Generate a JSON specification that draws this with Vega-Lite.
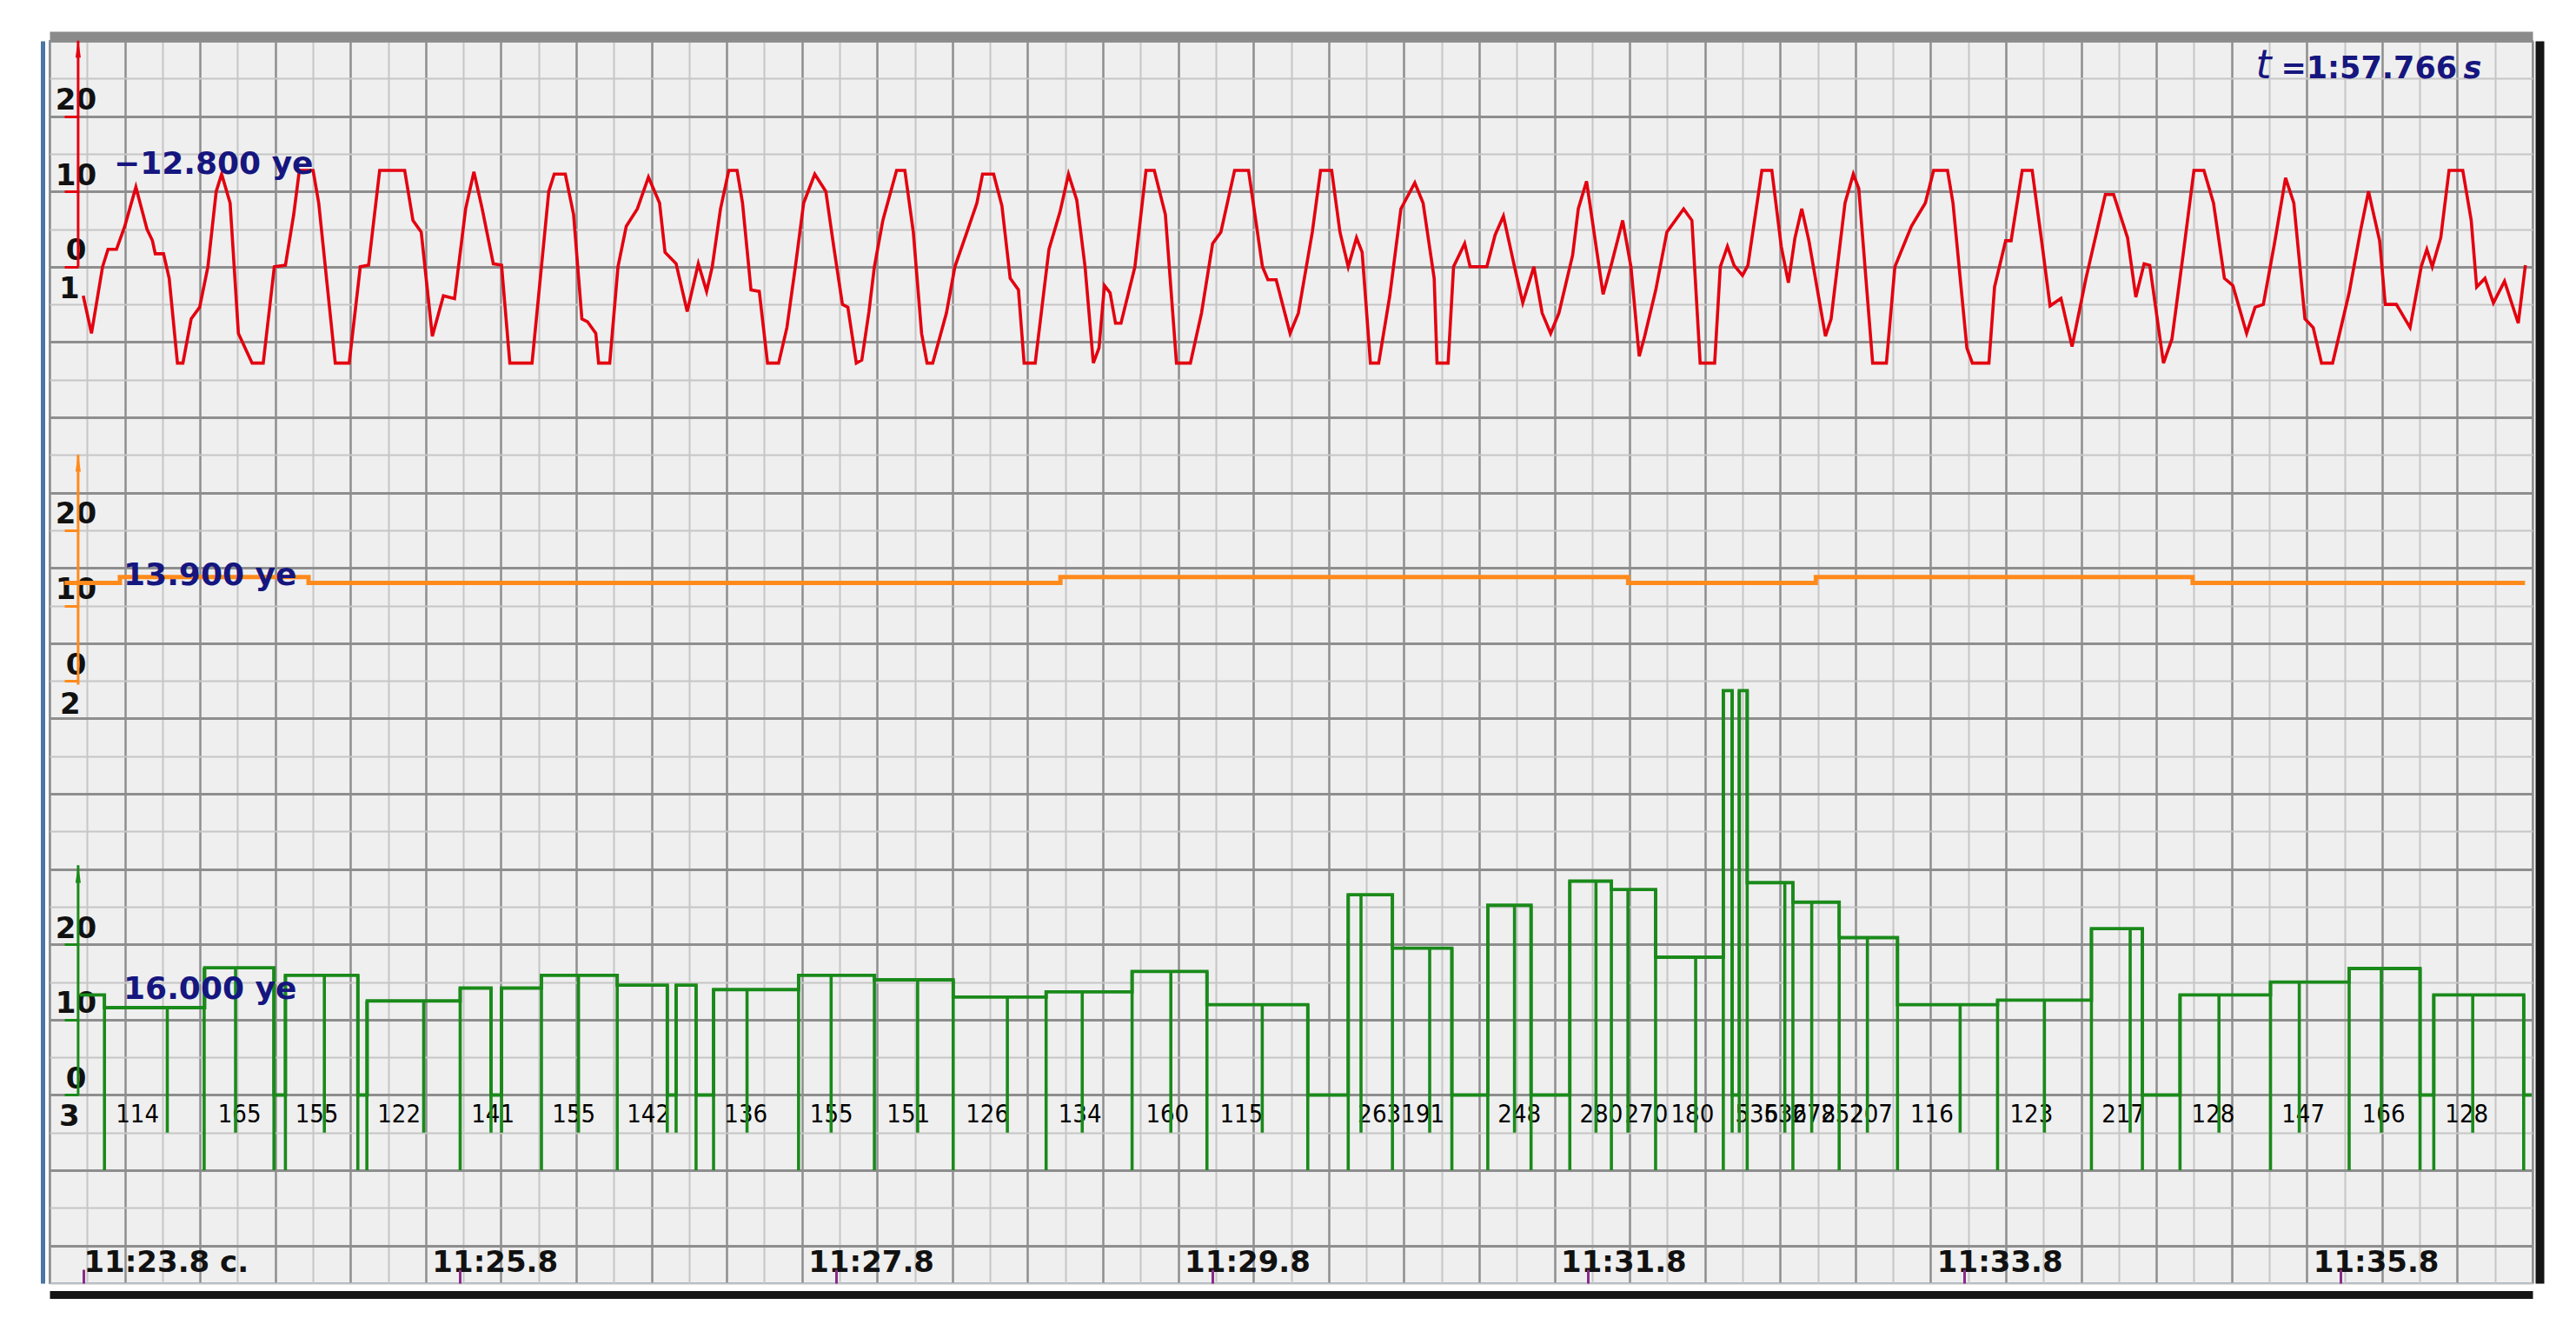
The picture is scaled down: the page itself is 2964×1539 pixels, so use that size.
{
  "$schema": "https://vega.github.io/schema/vega-lite/v6.json",
  "width": 2857,
  "height": 1429,
  "autosize": {"type": "none"},
  "padding": {"left": 57, "top": 47, "right": 50, "bottom": 63},
  "background": "white",
  "config": {
    "view": {"fill": "#efefef", "stroke": "#8da3bd", "strokeWidth": 2},
    "axis": {"labelFlush": false, "labelOverlap": false, "labelBound": false, "labelLimit": 600}
  },
  "datasets": {
    "red": [
      {"t":683.799,"v":-3.85},{"t":683.843,"v":-8.85},{"t":683.902,"v":0},{"t":683.931,"v":2.31},{"t":683.976,"v":2.31},{"t":684.02,"v":5.38},{"t":684.079,"v":10.58},{"t":684.138,"v":5.0},{"t":684.167,"v":3.46},{"t":684.182,"v":1.73},{"t":684.226,"v":1.73},{"t":684.256,"v":-1.54},{"t":684.3,"v":-12.8},{"t":684.329,"v":-12.8},{"t":684.373,"v":-6.92},{"t":684.418,"v":-5.38},{"t":684.462,"v":0},{"t":684.506,"v":10},{"t":684.535,"v":12.3},{"t":684.58,"v":8.46},{"t":684.624,"v":-8.85},{"t":684.697,"v":-12.8},{"t":684.756,"v":-12.8},{"t":684.815,"v":0},{"t":684.874,"v":0.2},{"t":684.918,"v":6.92},{"t":684.948,"v":12.8},{"t":685.021,"v":12.8},{"t":685.051,"v":8.46},{"t":685.139,"v":-12.8},{"t":685.213,"v":-12.8},{"t":685.272,"v":0},{"t":685.316,"v":0.2},{"t":685.375,"v":12.8},{"t":685.508,"v":12.8},{"t":685.552,"v":6.15},{"t":685.596,"v":4.6},{"t":685.655,"v":-9.23},{"t":685.714,"v":-3.85},{"t":685.773,"v":-4.23},{"t":685.832,"v":7.69},{"t":685.876,"v":12.6},{"t":685.92,"v":7.69},{"t":685.979,"v":0.4},{"t":686.023,"v":0.2},{"t":686.067,"v":-12.8},{"t":686.185,"v":-12.8},{"t":686.229,"v":-1.54},{"t":686.274,"v":10},{"t":686.303,"v":12.3},{"t":686.362,"v":12.3},{"t":686.406,"v":6.92},{"t":686.45,"v":-6.92},{"t":686.48,"v":-7.3},{"t":686.524,"v":-8.85},{"t":686.539,"v":-12.8},{"t":686.598,"v":-12.8},{"t":686.642,"v":0},{"t":686.686,"v":5.38},{"t":686.745,"v":7.69},{"t":686.804,"v":11.9},{"t":686.863,"v":8.46},{"t":686.892,"v":1.92},{"t":686.951,"v":0.4},{"t":687.01,"v":-5.96},{"t":687.069,"v":0.4},{"t":687.113,"v":-3.27},{"t":687.143,"v":0},{"t":687.187,"v":7.69},{"t":687.231,"v":12.8},{"t":687.275,"v":12.8},{"t":687.304,"v":8.46},{"t":687.349,"v":-3.08},{"t":687.393,"v":-3.27},{"t":687.437,"v":-12.8},{"t":687.496,"v":-12.8},{"t":687.54,"v":-8.08},{"t":687.585,"v":0},{"t":687.629,"v":8.46},{"t":687.688,"v":12.3},{"t":687.747,"v":10},{"t":687.791,"v":2.31},{"t":687.835,"v":-5},{"t":687.864,"v":-5.38},{"t":687.909,"v":-12.8},{"t":687.938,"v":-12.4},
      {"t":687.976,"v":-6},{"t":688.005,"v":0},{"t":688.05,"v":6.15},{"t":688.123,"v":12.8},{"t":688.167,"v":12.8},{"t":688.212,"v":4.6},{"t":688.256,"v":-8.85},{"t":688.285,"v":-12.8},{"t":688.315,"v":-12.8},{"t":688.388,"v":-6.15},{"t":688.433,"v":0},{"t":688.492,"v":4.23},{"t":688.55,"v":8.46},{"t":688.58,"v":12.3},{"t":688.639,"v":12.3},{"t":688.683,"v":8.08},{"t":688.727,"v":-1.54},{"t":688.771,"v":-3.08},{"t":688.801,"v":-12.8},{"t":688.86,"v":-12.8},{"t":688.933,"v":2.31},{"t":688.992,"v":7.3},{"t":689.037,"v":12.3},{"t":689.081,"v":8.85},{"t":689.125,"v":0},{"t":689.169,"v":-12.8},{"t":689.199,"v":-10.8},{"t":689.228,"v":-2.5},{"t":689.258,"v":-3.46},{"t":689.287,"v":-7.5},{"t":689.316,"v":-7.5},{"t":689.39,"v":0},{"t":689.449,"v":12.8},{"t":689.493,"v":12.8},{"t":689.552,"v":6.92},{"t":689.611,"v":-12.8},{"t":689.685,"v":-12.8},{"t":689.744,"v":-6.15},{"t":689.803,"v":3.08},{"t":689.847,"v":4.6},{"t":689.92,"v":12.8},{"t":689.994,"v":12.8},{"t":690.068,"v":0},{"t":690.097,"v":-1.73},{"t":690.141,"v":-1.73},{"t":690.215,"v":-8.85},{"t":690.259,"v":-6.15},{"t":690.333,"v":4.6},{"t":690.377,"v":12.8},{"t":690.436,"v":12.8},{"t":690.48,"v":4.6},{"t":690.524,"v":0},{"t":690.568,"v":3.85},{"t":690.598,"v":1.92},{"t":690.642,"v":-12.8},{"t":690.686,"v":-12.8},{"t":690.745,"v":-3.85},{"t":690.804,"v":7.69},{"t":690.878,"v":11.15},{"t":690.922,"v":8.46},{"t":690.981,"v":-1.54},{"t":690.996,"v":-12.8},{"t":691.055,"v":-12.8},{"t":691.084,"v":0},{"t":691.143,"v":3.08},{"t":691.172,"v":0},{"t":691.261,"v":0},{"t":691.305,"v":4.23},{"t":691.349,"v":6.73},{"t":691.408,"v":0},{"t":691.452,"v":-4.8},{"t":691.511,"v":0},{"t":691.555,"v":-6.15},{"t":691.6,"v":-8.85},{"t":691.644,"v":-6.15},{"t":691.717,"v":1.54},{"t":691.747,"v":7.69},{"t":691.791,"v":11.35},{"t":691.835,"v":3.85},{"t":691.879,"v":-3.65},{"t":691.924,"v":0.4},{"t":691.983,"v":6.15},{"t":692.027,"v":0},{"t":692.071,"v":-11.9},{"t":692.1,"v":-9.23},{"t":692.159,"v":-3.08},{"t":692.218,"v":4.6},{"t":692.307,"v":7.69},{"t":692.351,"v":6.15},{"t":692.395,"v":-12.8},
      {"t":692.472,"v":-12.8},{"t":692.502,"v":0},{"t":692.54,"v":2.69},{"t":692.575,"v":0.2},{"t":692.62,"v":-1.15},{"t":692.649,"v":0.2},{"t":692.723,"v":12.8},{"t":692.776,"v":12.8},{"t":692.826,"v":2.69},{"t":692.864,"v":-2.12},{"t":692.899,"v":3.85},{"t":692.935,"v":7.69},{"t":692.973,"v":3.46},{"t":693.061,"v":-9.23},{"t":693.091,"v":-6.92},{"t":693.165,"v":8.46},{"t":693.209,"v":12.3},{"t":693.238,"v":10.4},{"t":693.312,"v":-12.8},{"t":693.385,"v":-12.8},{"t":693.43,"v":0},{"t":693.518,"v":5.38},{"t":693.592,"v":8.46},{"t":693.636,"v":12.8},{"t":693.71,"v":12.8},{"t":693.739,"v":8.46},{"t":693.813,"v":-10.8},{"t":693.842,"v":-12.8},{"t":693.93,"v":-12.8},{"t":693.96,"v":-2.69},{"t":694.019,"v":3.46},{"t":694.048,"v":3.46},{"t":694.107,"v":12.8},{"t":694.16,"v":12.8},{"t":694.21,"v":3.46},{"t":694.255,"v":-5.2},{"t":694.313,"v":-4.2},{"t":694.372,"v":-10.6},{"t":694.446,"v":-1.54},{"t":694.549,"v":9.6},{"t":694.593,"v":9.6},{"t":694.667,"v":3.85},{"t":694.711,"v":-4.04},{"t":694.755,"v":0.4},{"t":694.785,"v":0.2},{"t":694.858,"v":-12.8},{"t":694.903,"v":-9.6},{"t":694.962,"v":1.54},{"t":695.02,"v":12.8},{"t":695.073,"v":12.8},{"t":695.124,"v":8.46},{"t":695.182,"v":-1.54},{"t":695.227,"v":-2.5},{"t":695.3,"v":-8.85},{"t":695.345,"v":-5.38},{"t":695.389,"v":-5},{"t":695.448,"v":3.08},{"t":695.507,"v":11.8},{"t":695.551,"v":8.46},{"t":695.61,"v":-6.92},{"t":695.654,"v":-8.08},{"t":695.698,"v":-12.8},{"t":695.757,"v":-12.8},{"t":695.845,"v":-3.46},{"t":695.904,"v":4.6},{"t":695.948,"v":10},{"t":696.007,"v":3.46},{"t":696.037,"v":-5},{"t":696.096,"v":-5},{"t":696.169,"v":-8.08},{"t":696.228,"v":0},{"t":696.258,"v":2.31},{"t":696.287,"v":0},{"t":696.332,"v":3.85},{"t":696.376,"v":12.8},{"t":696.449,"v":12.8},{"t":696.494,"v":6.15},{"t":696.523,"v":-2.69},{"t":696.567,"v":-1.54},{"t":696.612,"v":-4.8},{"t":696.671,"v":-1.92},{"t":696.744,"v":-7.5},{"t":696.782,"v":0.2}
    ],
    "orange": [
      {"t":683.70,"v":13.0},{"t":683.994,"v":13.8},{"t":684.997,"v":13.0},{"t":688.994,"v":13.8},{"t":692.012,"v":13.0},{"t":693.01,"v":13.8},{"t":695.013,"v":13.0},{"t":696.78,"v":13.0}
    ],
    "green": [
      {"t":683.78,"v":13.3},{"t":683.912,"v":11.6},{"t":684.445,"v":16.9},{"t":684.813,"v":0},{"t":684.874,"v":15.9},{"t":685.259,"v":0},{"t":685.309,"v":12.5},{"t":685.803,"v":14.2},{"t":685.967,"v":0},{"t":686.023,"v":14.2},{"t":686.235,"v":15.9},{"t":686.638,"v":14.6},{"t":686.904,"v":0},{"t":686.951,"v":14.6},{"t":687.057,"v":0},{"t":687.15,"v":14.0},{"t":687.602,"v":15.9},{"t":688.005,"v":15.3},{"t":688.424,"v":13.0},{"t":688.918,"v":13.7},{"t":689.375,"v":16.4},{"t":689.773,"v":12.0},{"t":690.309,"v":0},{"t":690.524,"v":26.6},{"t":690.759,"v":19.5},{"t":691.075,"v":0},{"t":691.266,"v":25.2},{"t":691.496,"v":0},{"t":691.702,"v":28.4},{"t":691.923,"v":27.3},{"t":692.158,"v":18.3},{"t":692.518,"v":53.7},{"t":692.565,"v":0},{"t":692.603,"v":53.7},{"t":692.645,"v":28.2},{"t":692.888,"v":25.6},{"t":693.134,"v":20.9},{"t":693.444,"v":12.0},{"t":693.976,"v":12.6},{"t":694.475,"v":22.1},{"t":694.746,"v":0},{"t":694.946,"v":13.3},{"t":695.427,"v":15.0},{"t":695.845,"v":16.8},{"t":696.222,"v":0},{"t":696.295,"v":13.3},{"t":696.773,"v":0},{"t":696.815,"v":0}
    ],
    "ticks": [
      {"kind":"long","bottom":-10,"t":683.912,"top":13.3},{"kind":"long","bottom":-10,"t":684.442,"top":16.9},{"kind":"long","bottom":-10,"t":684.813,"top":16.9},{"kind":"long","bottom":-10,"t":684.874,"top":15.9},{"kind":"long","bottom":-10,"t":685.259,"top":15.9},{"kind":"long","bottom":-10,"t":685.307,"top":12.5},{"kind":"long","bottom":-10,"t":685.803,"top":14.2},{"kind":"long","bottom":-10,"t":686.235,"top":15.9},{"kind":"long","bottom":-10,"t":686.638,"top":15.9},{"kind":"long","bottom":-10,"t":687.057,"top":14.6},{"kind":"long","bottom":-10,"t":687.15,"top":14.0},{"kind":"long","bottom":-10,"t":687.602,"top":15.9},{"kind":"long","bottom":-10,"t":688.005,"top":15.9},{"kind":"long","bottom":-10,"t":688.424,"top":15.3},{"kind":"long","bottom":-10,"t":688.918,"top":13.7},{"kind":"long","bottom":-10,"t":689.375,"top":16.4},{"kind":"long","bottom":-10,"t":689.773,"top":16.4},{"kind":"long","bottom":-10,"t":690.309,"top":12.0},{"kind":"long","bottom":-10,"t":690.524,"top":26.6},{"kind":"long","bottom":-10,"t":690.759,"top":26.6},{"kind":"long","bottom":-10,"t":691.075,"top":19.5},{"kind":"long","bottom":-10,"t":691.266,"top":25.2},{"kind":"long","bottom":-10,"t":691.496,"top":25.2},{"kind":"long","bottom":-10,"t":691.702,"top":28.4},{"kind":"long","bottom":-10,"t":691.923,"top":28.4},{"kind":"long","bottom":-10,"t":692.158,"top":27.3},{"kind":"long","bottom":-10,"t":692.518,"top":53.7},{"kind":"long","bottom":-10,"t":692.645,"top":53.7},{"kind":"long","bottom":-10,"t":692.888,"top":28.2},{"kind":"long","bottom":-10,"t":693.134,"top":25.6},{"kind":"long","bottom":-10,"t":693.444,"top":20.9},{"kind":"long","bottom":-10,"t":693.976,"top":12.6},{"kind":"long","bottom":-10,"t":694.475,"top":22.1},{"kind":"long","bottom":-10,"t":694.746,"top":22.1},{"kind":"long","bottom":-10,"t":694.946,"top":13.3},{"kind":"long","bottom":-10,"t":695.427,"top":15.0},{"kind":"long","bottom":-10,"t":695.845,"top":16.8},{"kind":"long","bottom":-10,"t":696.222,"top":16.8},{"kind":"long","bottom":-10,"t":696.295,"top":13.3},{"kind":"long","bottom":-10,"t":696.773,"top":13.3},
      {"kind":"short","bottom":-5,"t":684.246,"top":11.6},{"kind":"short","bottom":-5,"t":684.609,"top":16.9},{"kind":"short","bottom":-5,"t":685.081,"top":15.9},{"kind":"short","bottom":-5,"t":685.609,"top":12.5},{"kind":"short","bottom":-5,"t":685.967,"top":14.2},{"kind":"short","bottom":-5,"t":686.023,"top":14.2},{"kind":"short","bottom":-5,"t":686.432,"top":15.9},{"kind":"short","bottom":-5,"t":686.904,"top":14.6},{"kind":"short","bottom":-5,"t":686.951,"top":14.6},{"kind":"short","bottom":-5,"t":687.328,"top":14.0},{"kind":"short","bottom":-5,"t":687.775,"top":15.9},{"kind":"short","bottom":-5,"t":688.235,"top":15.3},{"kind":"short","bottom":-5,"t":688.712,"top":13.0},{"kind":"short","bottom":-5,"t":689.11,"top":13.7},{"kind":"short","bottom":-5,"t":689.581,"top":16.4},{"kind":"short","bottom":-5,"t":690.067,"top":12.0},{"kind":"short","bottom":-5,"t":690.592,"top":26.6},{"kind":"short","bottom":-5,"t":690.957,"top":19.5},{"kind":"short","bottom":-5,"t":691.408,"top":25.2},{"kind":"short","bottom":-5,"t":691.841,"top":28.4},{"kind":"short","bottom":-5,"t":692.011,"top":27.3},{"kind":"short","bottom":-5,"t":692.371,"top":18.3},{"kind":"short","bottom":-5,"t":692.565,"top":53.7},{"kind":"short","bottom":-5,"t":692.603,"top":53.7},{"kind":"short","bottom":-5,"t":692.845,"top":28.2},{"kind":"short","bottom":-5,"t":692.988,"top":25.6},{"kind":"short","bottom":-5,"t":693.284,"top":20.9},{"kind":"short","bottom":-5,"t":693.777,"top":12.0},{"kind":"short","bottom":-5,"t":694.225,"top":12.6},{"kind":"short","bottom":-5,"t":694.681,"top":22.1},{"kind":"short","bottom":-5,"t":695.153,"top":13.3},{"kind":"short","bottom":-5,"t":695.58,"top":15.0},{"kind":"short","bottom":-5,"t":696.016,"top":16.8},{"kind":"short","bottom":-5,"t":696.502,"top":13.3}
    ],
    "glabels": [
      {"t":684.087,"v":-2.65,"lab":"114"},{"t":684.63,"v":-2.65,"lab":"165"},{"t":685.041,"v":-2.65,"lab":"155"},{"t":685.478,"v":-2.65,"lab":"122"},{"t":685.977,"v":-2.65,"lab":"141"},{"t":686.407,"v":-2.65,"lab":"155"},{"t":686.804,"v":-2.65,"lab":"142"},{"t":687.322,"v":-2.65,"lab":"136"},{"t":687.777,"v":-2.65,"lab":"155"},{"t":688.186,"v":-2.65,"lab":"151"},{"t":688.606,"v":-2.65,"lab":"126"},{"t":689.098,"v":-2.65,"lab":"134"},{"t":689.563,"v":-2.65,"lab":"160"},{"t":689.956,"v":-2.65,"lab":"115"},{"t":690.69,"v":-2.65,"lab":"263"},{"t":690.921,"v":-2.65,"lab":"191"},{"t":691.434,"v":-2.65,"lab":"248"},{"t":691.869,"v":-2.65,"lab":"280"},{"t":692.109,"v":-2.65,"lab":"270"},{"t":692.354,"v":-2.65,"lab":"180"},{"t":692.696,"v":-2.65,"lab":"536"},{"t":692.848,"v":-2.65,"lab":"536"},{"t":693.0,"v":-2.65,"lab":"278"},{"t":693.152,"v":-2.65,"lab":"252"},{"t":693.304,"v":-2.65,"lab":"207"},{"t":693.627,"v":-2.65,"lab":"116"},{"t":694.156,"v":-2.65,"lab":"123"},{"t":694.644,"v":-2.65,"lab":"217"},{"t":695.122,"v":-2.65,"lab":"128"},{"t":695.601,"v":-2.65,"lab":"147"},{"t":696.028,"v":-2.65,"lab":"166"},{"t":696.47,"v":-2.65,"lab":"128"}
    ],
    "channels": [
      {"ch": "1", "trace": "red", "t": 683.772, "lo": 0, "hi": 30, "tip": 28.6, "nt": 683.726, "nv": -3.0},
      {"ch": "2", "trace": "orange", "t": 683.772, "lo": -0.5, "hi": 30, "tip": 28.6, "nt": 683.73, "nv": -3.2},
      {"ch": "3", "trace": "green", "t": 683.772, "lo": 0, "hi": 30.5, "tip": 29.0, "nt": 683.726, "nv": -2.9}
    ],
    "notes": [
      {"trace": "red", "label": "−12.800 ye", "t": 683.962, "v": 12.3},
      {"trace": "orange", "label": "13.900 ye", "t": 684.013, "v": 12.7},
      {"trace": "green", "label": "16.000 ye", "t": 684.013, "v": 12.7},
      {"trace": "cursor_t", "label": "t", "t": 695.348, "v": 25.0},
      {"trace": "cursor_val", "label": "=1:57.766", "t": 695.482, "v": 25.0},
      {"trace": "cursor_s", "label": "s", "t": 696.453, "v": 25.0}
    ]
  },
  "resolve": {"scale": {"x": "independent", "y": "independent"}, "axis": {"x": "independent", "y": "independent"}},
  "layer": [
    {
      "data": {"name": "orange"},
      "mark": {"type": "line", "opacity": 0},
      "encoding": {
        "x": {"field": "t", "type": "quantitative", "scale": {"domain": [683.62, 696.82], "nice": false, "zero": false},
          "axis": {"orient": "bottom", "title": null, "domain": false, "ticks": false, "labels": false, "grid": true, "gridWidth": 2, "gridColor": "#c6c6c6",
            "values": [683.82,684.22,684.62,685.02,685.42,685.82,686.22,686.62,687.02,687.42,687.82,688.22,688.62,689.02,689.42,689.82,690.22,690.62,691.02,691.42,691.82,692.22,692.62,693.02,693.42,693.82,694.22,694.62,695.02,695.42,695.82,696.22,696.62]}},
        "y": {"field": "v", "type": "quantitative", "scale": {"domain": [-135, 30], "nice": false, "zero": false},
          "axis": {"orient": "left", "title": null, "domain": false, "ticks": false, "labels": false, "grid": true, "gridWidth": 2.2, "gridColor": "#c6c6c6",
            "values": [-135,-125,-115,-105,-95,-85,-75,-65,-55,-45,-35,-25,-15,-5,5,15,25]}}
      }
    },
    {
      "data": {"name": "orange"},
      "mark": {"type": "line", "opacity": 0},
      "encoding": {
        "x": {"field": "t", "type": "quantitative", "scale": {"domain": [683.62, 696.82], "nice": false, "zero": false},
          "axis": {"orient": "bottom", "title": null, "domain": false, "ticks": false, "labels": false, "grid": true, "gridWidth": 2.5, "gridColor": "#8e8e8e",
            "values": [683.62,684.02,684.42,684.82,685.22,685.62,686.02,686.42,686.82,687.22,687.62,688.02,688.42,688.82,689.22,689.62,690.02,690.42,690.82,691.22,691.62,692.02,692.42,692.82,693.22,693.62,694.02,694.42,694.82,695.22,695.62,696.02,696.42,696.82]}},
        "y": {"field": "v", "type": "quantitative", "scale": {"domain": [-135, 30], "nice": false, "zero": false},
          "axis": {"orient": "left", "title": null, "domain": false, "ticks": false, "labels": false, "grid": true, "gridWidth": 2.8, "gridColor": "#8e8e8e",
            "values": [-130,-120,-110,-100,-90,-80,-70,-60,-50,-40,-30,-20,-10,0,10,20,30]}}
      }
    },
    {
      "data": {"name": "orange"},
      "mark": {"type": "line", "opacity": 0},
      "encoding": {
        "x": {"field": "t", "type": "quantitative", "scale": {"domain": [683.62, 696.82], "nice": false, "zero": false},
          "axis": {"orient": "top", "title": null, "domain": true, "domainColor": "#8a8a8a", "domainWidth": 10, "offset": 6, "ticks": false, "labels": false, "grid": false}},
        "y": {"field": "v", "type": "quantitative", "scale": {"domain": [-135, 30], "nice": false, "zero": false},
          "axis": {"orient": "left", "title": null, "domain": true, "domainColor": "#4b76a6", "domainWidth": 5, "offset": 8, "ticks": false, "labels": false, "grid": false}}
      }
    },
    {
      "data": {"name": "orange"},
      "mark": {"type": "line", "opacity": 0},
      "encoding": {
        "x": {"field": "t", "type": "quantitative", "scale": {"domain": [683.62, 696.82], "nice": false, "zero": false},
          "axis": {"orient": "bottom", "title": null, "domain": true, "domainColor": "#151515", "domainWidth": 9, "offset": 13, "ticks": false, "labels": false, "grid": false}},
        "y": {"field": "v", "type": "quantitative", "scale": {"domain": [-135, 30], "nice": false, "zero": false},
          "axis": {"orient": "right", "title": null, "domain": true, "domainColor": "#151515", "domainWidth": 10, "offset": 8, "ticks": false, "labels": false, "grid": false}}
      }
    },
    {
      "data": {"name": "red"},
      "mark": {"type": "line", "color": "#e3000f", "strokeWidth": 3.6},
      "encoding": {
        "x": {"field": "t", "type": "quantitative", "scale": {"domain": [683.62, 696.82], "nice": false, "zero": false},
          "axis": {"orient": "bottom", "title": null, "domain": false, "grid": false, "ticks": false, "labels": true,
            "values": [683.8],
            "labelExpr": "'11:' + format(datum.value - 660, '.1f') + ' c.'",
            "labelAlign": "left", "labelBaseline": "alphabetic", "labelPadding": -14, "labelOffset": 0, "labelLimit": 600,
            "labelFont": "DejaVu Sans", "labelFontWeight": "bold", "labelFontSize": 34, "labelColor": "#111111"}},
        "y": {"field": "v", "type": "quantitative", "scale": {"domain": [-135, 30], "nice": false, "zero": false},
          "axis": {"orient": "left", "offset": -33, "values": [0, 10, 20], "title": null, "domain": false, "grid": false, "ticks": true, "tickSize": 16, "tickWidth": 3, "tickColor": "#e3000f",
            "labelFont": "DejaVu Sans", "labelFontWeight": "bold", "labelFontSize": 34, "labelColor": "#111111", "labelAlign": "center", "labelBaseline": "alphabetic", "labelPadding": -13, "labelOffset": -8}}
      }
    },
    {
      "data": {"name": "channels"},
      "transform": [{"filter": "datum.trace === 'red'"}],
      "mark": {"type": "rule", "color": "#e3000f", "strokeWidth": 3},
      "encoding": {
        "x": {"field": "t", "type": "quantitative", "scale": {"domain": [683.62, 696.82], "nice": false, "zero": false}, "axis": null},
        "y": {"field": "lo", "type": "quantitative", "scale": {"domain": [-135, 30], "nice": false, "zero": false}, "axis": null},
        "y2": {"field": "hi"}
      }
    },
    {
      "data": {"name": "channels"},
      "transform": [{"filter": "datum.trace === 'red'"}],
      "mark": {"type": "point", "shape": "wedge", "filled": true, "color": "#e3000f", "size": 600, "opacity": 1},
      "encoding": {
        "x": {"field": "t", "type": "quantitative", "scale": {"domain": [683.62, 696.82], "nice": false, "zero": false}, "axis": null},
        "y": {"field": "tip", "type": "quantitative", "scale": {"domain": [-135, 30], "nice": false, "zero": false}, "axis": null}
      }
    },
    {
      "data": {"name": "channels"},
      "transform": [{"filter": "datum.trace === 'red'"}],
      "mark": {"type": "text", "font": "DejaVu Sans", "fontWeight": "bold", "fontSize": 34, "color": "#111111", "align": "center", "baseline": "middle"},
      "encoding": {
        "x": {"field": "nt", "type": "quantitative", "scale": {"domain": [683.62, 696.82], "nice": false, "zero": false}, "axis": null},
        "y": {"field": "nv", "type": "quantitative", "scale": {"domain": [-135, 30], "nice": false, "zero": false}, "axis": null},
        "text": {"field": "ch", "type": "nominal"}
      }
    },
    {
      "data": {"name": "notes"},
      "transform": [{"filter": "datum.trace === 'red'"}],
      "mark": {"type": "text", "font": "DejaVu Sans", "fontWeight": "bold", "fontSize": 36, "color": "#16167f", "align": "left", "baseline": "alphabetic"},
      "encoding": {
        "x": {"field": "t", "type": "quantitative", "scale": {"domain": [683.62, 696.82], "nice": false, "zero": false}, "axis": null},
        "y": {"field": "v", "type": "quantitative", "scale": {"domain": [-135, 30], "nice": false, "zero": false}, "axis": null},
        "text": {"field": "label", "type": "nominal"}
      }
    },
    {
      "data": {"name": "notes"},
      "transform": [{"filter": "datum.trace === 'cursor_t'"}],
      "mark": {"type": "text", "font": "DejaVu Sans", "fontStyle": "italic", "fontSize": 46, "color": "#16167f", "align": "left", "baseline": "alphabetic"},
      "encoding": {
        "x": {"field": "t", "type": "quantitative", "scale": {"domain": [683.62, 696.82], "nice": false, "zero": false}, "axis": null},
        "y": {"field": "v", "type": "quantitative", "scale": {"domain": [-135, 30], "nice": false, "zero": false}, "axis": null},
        "text": {"field": "label", "type": "nominal"}
      }
    },
    {
      "data": {"name": "notes"},
      "transform": [{"filter": "datum.trace === 'cursor_val'"}],
      "mark": {"type": "text", "font": "DejaVu Sans", "fontWeight": "bold", "fontSize": 35, "color": "#16167f", "align": "left", "baseline": "alphabetic"},
      "encoding": {
        "x": {"field": "t", "type": "quantitative", "scale": {"domain": [683.62, 696.82], "nice": false, "zero": false}, "axis": null},
        "y": {"field": "v", "type": "quantitative", "scale": {"domain": [-135, 30], "nice": false, "zero": false}, "axis": null},
        "text": {"field": "label", "type": "nominal"}
      }
    },
    {
      "data": {"name": "notes"},
      "transform": [{"filter": "datum.trace === 'cursor_s'"}],
      "mark": {"type": "text", "font": "DejaVu Sans", "fontWeight": "bold", "fontStyle": "italic", "fontSize": 35, "color": "#16167f", "align": "left", "baseline": "alphabetic"},
      "encoding": {
        "x": {"field": "t", "type": "quantitative", "scale": {"domain": [683.62, 696.82], "nice": false, "zero": false}, "axis": null},
        "y": {"field": "v", "type": "quantitative", "scale": {"domain": [-135, 30], "nice": false, "zero": false}, "axis": null},
        "text": {"field": "label", "type": "nominal"}
      }
    },
    {
      "data": {"name": "orange"},
      "mark": {"type": "line", "color": "#ff8a1c", "strokeWidth": 5, "interpolate": "step-after"},
      "encoding": {
        "x": {"field": "t", "type": "quantitative", "scale": {"domain": [683.62, 696.82], "nice": false, "zero": false},
          "axis": {"orient": "bottom", "title": null, "domain": false, "grid": false, "ticks": false, "labels": true,
            "values": [685.8, 687.8, 689.8, 691.8, 693.8, 695.8],
            "labelExpr": "'11:' + format(datum.value - 660, '.1f')",
            "labelAlign": "left", "labelBaseline": "alphabetic", "labelPadding": -14, "labelOffset": -32, "labelLimit": 600,
            "labelFont": "DejaVu Sans", "labelFontWeight": "bold", "labelFontSize": 34, "labelColor": "#111111"}},
        "y": {"field": "v", "type": "quantitative", "scale": {"domain": [-80, 85], "nice": false, "zero": false},
          "axis": {"orient": "left", "offset": -33, "values": [0, 10, 20], "title": null, "domain": false, "grid": false, "ticks": true, "tickSize": 16, "tickWidth": 3, "tickColor": "#ff8a1c",
            "labelFont": "DejaVu Sans", "labelFontWeight": "bold", "labelFontSize": 34, "labelColor": "#111111", "labelAlign": "center", "labelBaseline": "alphabetic", "labelPadding": -13, "labelOffset": -8}}
      }
    },
    {
      "data": {"name": "channels"},
      "transform": [{"filter": "datum.trace === 'orange'"}],
      "mark": {"type": "rule", "color": "#ff8a1c", "strokeWidth": 3},
      "encoding": {
        "x": {"field": "t", "type": "quantitative", "scale": {"domain": [683.62, 696.82], "nice": false, "zero": false}, "axis": null},
        "y": {"field": "lo", "type": "quantitative", "scale": {"domain": [-80, 85], "nice": false, "zero": false}, "axis": null},
        "y2": {"field": "hi"}
      }
    },
    {
      "data": {"name": "channels"},
      "transform": [{"filter": "datum.trace === 'orange'"}],
      "mark": {"type": "point", "shape": "wedge", "filled": true, "color": "#ff8a1c", "size": 600, "opacity": 1},
      "encoding": {
        "x": {"field": "t", "type": "quantitative", "scale": {"domain": [683.62, 696.82], "nice": false, "zero": false}, "axis": null},
        "y": {"field": "tip", "type": "quantitative", "scale": {"domain": [-80, 85], "nice": false, "zero": false}, "axis": null}
      }
    },
    {
      "data": {"name": "channels"},
      "transform": [{"filter": "datum.trace === 'orange'"}],
      "mark": {"type": "text", "font": "DejaVu Sans", "fontWeight": "bold", "fontSize": 34, "color": "#111111", "align": "center", "baseline": "middle"},
      "encoding": {
        "x": {"field": "nt", "type": "quantitative", "scale": {"domain": [683.62, 696.82], "nice": false, "zero": false}, "axis": null},
        "y": {"field": "nv", "type": "quantitative", "scale": {"domain": [-80, 85], "nice": false, "zero": false}, "axis": null},
        "text": {"field": "ch", "type": "nominal"}
      }
    },
    {
      "data": {"name": "notes"},
      "transform": [{"filter": "datum.trace === 'orange'"}],
      "mark": {"type": "text", "font": "DejaVu Sans", "fontWeight": "bold", "fontSize": 36, "color": "#16167f", "align": "left", "baseline": "alphabetic"},
      "encoding": {
        "x": {"field": "t", "type": "quantitative", "scale": {"domain": [683.62, 696.82], "nice": false, "zero": false}, "axis": null},
        "y": {"field": "v", "type": "quantitative", "scale": {"domain": [-80, 85], "nice": false, "zero": false}, "axis": null},
        "text": {"field": "label", "type": "nominal"}
      }
    },
    {
      "data": {"name": "glabels"},
      "mark": {"type": "text", "font": "DejaVu Sans Condensed, DejaVu Sans", "fontSize": 29, "color": "#000000", "align": "center", "baseline": "middle"},
      "encoding": {
        "x": {"field": "t", "type": "quantitative", "scale": {"domain": [683.62, 696.82], "nice": false, "zero": false}, "axis": null},
        "y": {"field": "v", "type": "quantitative", "scale": {"domain": [-25, 140], "nice": false, "zero": false}, "axis": null},
        "text": {"field": "lab", "type": "nominal"}
      }
    },
    {
      "data": {"name": "ticks"},
      "mark": {"type": "rule", "color": "#1a8a1a", "strokeWidth": 3.6},
      "encoding": {
        "x": {"field": "t", "type": "quantitative", "scale": {"domain": [683.62, 696.82], "nice": false, "zero": false}, "axis": null},
        "y": {"field": "bottom", "type": "quantitative", "scale": {"domain": [-25, 140], "nice": false, "zero": false}, "axis": null},
        "y2": {"field": "top"}
      }
    },
    {
      "data": {"name": "green"},
      "mark": {"type": "line", "color": "#1a8a1a", "strokeWidth": 3.8, "interpolate": "step-after"},
      "encoding": {
        "x": {"field": "t", "type": "quantitative", "scale": {"domain": [683.62, 696.82], "nice": false, "zero": false},
          "axis": {"orient": "bottom", "title": null, "domain": false, "grid": false, "labels": false, "ticks": true, "tickSize": -16, "tickWidth": 3, "tickColor": "#8a2a8a",
            "values": [683.8, 685.8, 687.8, 689.8, 691.8, 693.8, 695.8]}},
        "y": {"field": "v", "type": "quantitative", "scale": {"domain": [-25, 140], "nice": false, "zero": false},
          "axis": {"orient": "left", "offset": -33, "values": [0, 10, 20], "title": null, "domain": false, "grid": false, "ticks": true, "tickSize": 16, "tickWidth": 3, "tickColor": "#1a8a1a",
            "labelFont": "DejaVu Sans", "labelFontWeight": "bold", "labelFontSize": 34, "labelColor": "#111111", "labelAlign": "center", "labelBaseline": "alphabetic", "labelPadding": -13, "labelOffset": -8}}
      }
    },
    {
      "data": {"name": "channels"},
      "transform": [{"filter": "datum.trace === 'green'"}],
      "mark": {"type": "rule", "color": "#1a8a1a", "strokeWidth": 3},
      "encoding": {
        "x": {"field": "t", "type": "quantitative", "scale": {"domain": [683.62, 696.82], "nice": false, "zero": false}, "axis": null},
        "y": {"field": "lo", "type": "quantitative", "scale": {"domain": [-25, 140], "nice": false, "zero": false}, "axis": null},
        "y2": {"field": "hi"}
      }
    },
    {
      "data": {"name": "channels"},
      "transform": [{"filter": "datum.trace === 'green'"}],
      "mark": {"type": "point", "shape": "wedge", "filled": true, "color": "#1a8a1a", "size": 600, "opacity": 1},
      "encoding": {
        "x": {"field": "t", "type": "quantitative", "scale": {"domain": [683.62, 696.82], "nice": false, "zero": false}, "axis": null},
        "y": {"field": "tip", "type": "quantitative", "scale": {"domain": [-25, 140], "nice": false, "zero": false}, "axis": null}
      }
    },
    {
      "data": {"name": "channels"},
      "transform": [{"filter": "datum.trace === 'green'"}],
      "mark": {"type": "text", "font": "DejaVu Sans", "fontWeight": "bold", "fontSize": 34, "color": "#111111", "align": "center", "baseline": "middle"},
      "encoding": {
        "x": {"field": "nt", "type": "quantitative", "scale": {"domain": [683.62, 696.82], "nice": false, "zero": false}, "axis": null},
        "y": {"field": "nv", "type": "quantitative", "scale": {"domain": [-25, 140], "nice": false, "zero": false}, "axis": null},
        "text": {"field": "ch", "type": "nominal"}
      }
    },
    {
      "data": {"name": "notes"},
      "transform": [{"filter": "datum.trace === 'green'"}],
      "mark": {"type": "text", "font": "DejaVu Sans", "fontWeight": "bold", "fontSize": 36, "color": "#16167f", "align": "left", "baseline": "alphabetic"},
      "encoding": {
        "x": {"field": "t", "type": "quantitative", "scale": {"domain": [683.62, 696.82], "nice": false, "zero": false}, "axis": null},
        "y": {"field": "v", "type": "quantitative", "scale": {"domain": [-25, 140], "nice": false, "zero": false}, "axis": null},
        "text": {"field": "label", "type": "nominal"}
      }
    }
  ]
}
